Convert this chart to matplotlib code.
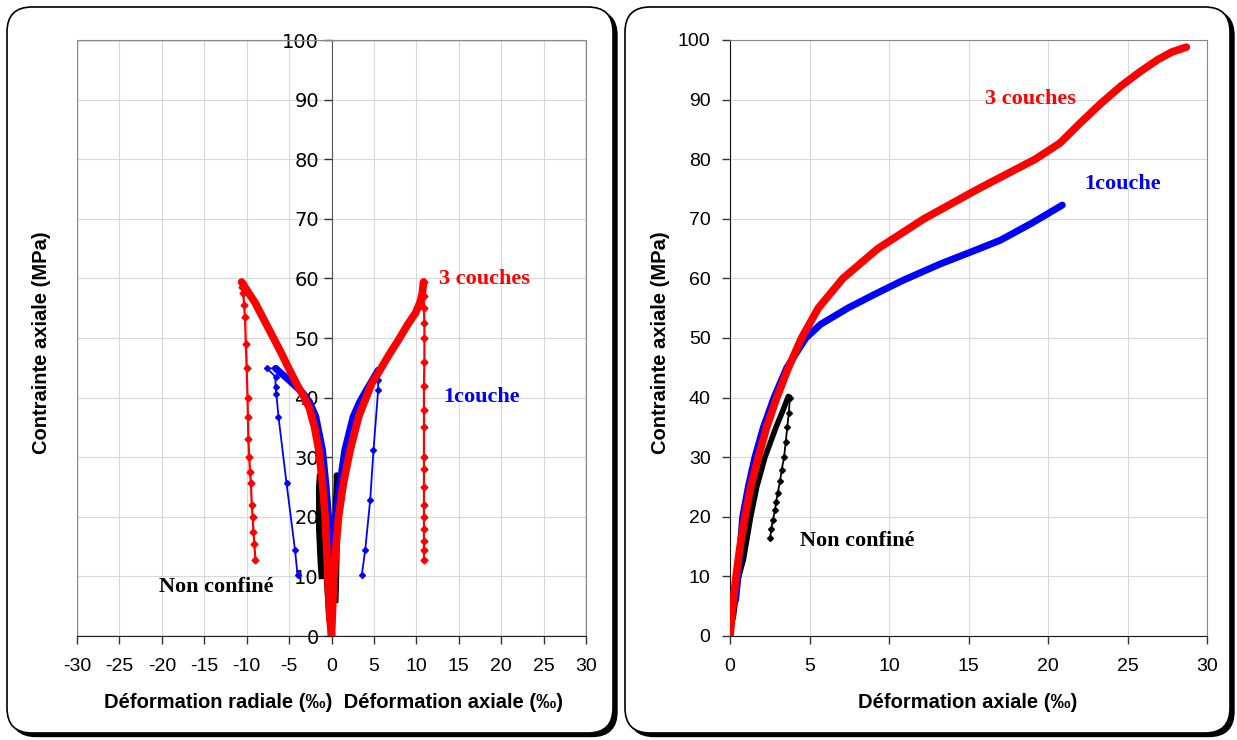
import matplotlib.pyplot as plt
from matplotlib.patches import FancyBboxPatch, Rectangle

plt.rcParams["axes.unicode_minus"] = False

# ---- left panel: radial (negative) and axial (positive) strain vs axial stress ----
# 3 couches (red)
r3_rad_x = [0.0, -0.2, -0.4, -0.55, -0.75, -1.06, -1.5, -2.0, -2.6, -3.3, -4.0, -5.0, -6.0, -7.5,
            -9.0, -10.6]
r3_rad_y = [0.0, 3.2, 8.8, 14.4, 20.0, 25.6, 31.2, 35.0, 38.2, 40.3, 42.0, 44.8, 47.7, 51.8,
            55.9, 59.4]
r3_rad_unl_x = [-10.6, -10.5, -10.4, -10.3, -10.2, -10.1, -10.0, -9.9, -9.85, -9.8, -9.7, -9.6,
                -9.5, -9.4, -9.3, -9.2, -9.1, -8.96]
r3_rad_unl_y = [59.4, 58.5, 57.5, 55.5, 53.5, 49.0, 45.0, 40.0, 36.7, 33.0, 30.0, 27.5, 25.6,
                22.0, 20.0, 17.5, 15.5, 12.7]
r3_ax_x = [0.0, 0.24, 0.5, 0.83, 1.4, 2.2, 3.2, 3.97, 4.75, 5.5, 6.7, 7.9, 9.0, 9.9, 10.45,
           10.7, 10.85]
r3_ax_y = [0.0, 8.8, 14.4, 20.0, 25.6, 31.2, 36.8, 39.6, 42.4, 44.1, 47.0, 49.7, 52.3, 54.2,
           56.0, 57.5, 59.4]
r3_ax_unl_x = [10.85, 10.9, 10.9, 10.95, 10.95, 10.95, 10.9, 10.9, 10.9, 10.9, 10.9, 10.9, 10.9,
               10.9, 10.9, 10.9, 10.9, 10.9]
r3_ax_unl_y = [59.4, 57.0, 55.0, 52.5, 50.0, 46.0, 42.0, 38.0, 35.0, 30.0, 28.0, 25.0, 22.0,
               20.0, 18.0, 16.0, 14.5, 12.7]

# 1couche (blue)
r1_rad_x = [0.0, -0.1, -0.15, -0.35, -0.67, -1.06, -1.85, -2.6, -3.4, -4.0, -5.3, -6.6]
r1_rad_y = [10.0, 12.0, 14.4, 20.0, 25.6, 31.2, 36.8, 39.3, 40.8, 41.6, 43.3, 44.9]
r1_rad_unl_x = [-6.6, -7.6, -6.6, -6.6, -6.5, -6.25, -5.3, -4.3, -4.0]
r1_rad_unl_y = [44.9, 44.9, 43.5, 41.8, 40.6, 36.8, 25.6, 14.4, 10.2]
r1_ax_x = [0.0, 0.16, 0.5, 1.0, 1.57, 2.55, 3.3, 3.97, 4.8, 5.5]
r1_ax_y = [10.0, 14.4, 20.0, 25.6, 31.2, 36.8, 39.2, 40.9, 42.9, 44.6]
r1_ax_unl_x = [5.5, 5.5, 5.5, 4.95, 4.56, 3.97, 3.57]
r1_ax_unl_y = [44.6, 43.0, 41.3, 31.2, 22.8, 14.4, 10.2]

# Non confiné (black)
r0_rad_x = [-0.3, -0.6, -0.9, -1.1, -1.3, -1.4, -1.5, -1.5, -1.3, -1.2]
r0_rad_y = [3.0, 10.0, 15.0, 20.0, 25.0, 27.0, 25.0, 18.0, 12.0, 10.0]
r0_ax_x = [0.1, 0.25, 0.35, 0.45, 0.6, 0.7, 0.65, 0.55, 0.5]
r0_ax_y = [3.0, 8.0, 14.0, 20.0, 27.0, 24.0, 15.0, 8.0, 6.0]

# ---- right panel: axial strain vs axial stress ----
c3_x = [0.0, 0.21, 0.38, 0.63, 0.94, 1.3, 1.78, 2.3, 2.94, 3.67, 4.5, 5.55, 7.1, 9.3, 12.2,
        15.6, 19.2, 20.75, 22.0, 23.3, 24.6, 25.8, 26.9, 27.8, 28.7]
c3_y = [0.0, 6.0, 10.0, 15.0, 20.0, 25.0, 30.0, 35.0, 40.0, 45.0, 50.0, 55.0, 60.0, 65.0, 70.0,
        75.0, 80.0, 82.7, 86.0, 89.3, 92.3, 94.7, 96.7, 98.0, 98.8]
c1_x = [0.0, 0.15, 0.35, 0.5, 0.8, 1.15, 1.57, 2.1, 2.77, 3.57, 4.77, 5.7, 7.4, 9.0, 10.9, 13.2,
        15.5, 17.0, 19.0, 20.9]
c1_y = [0.0, 5.5, 6.0, 10.0, 20.0, 25.0, 30.0, 35.0, 40.0, 45.0, 50.0, 52.3, 55.0, 57.2, 59.7,
        62.4, 64.8, 66.4, 69.3, 72.3]
c0_x = [0.2, 0.52, 0.84, 1.3, 1.68, 2.2, 2.89, 3.35, 3.67, 3.77]
c0_y = [3.0, 9.7, 12.8, 20.0, 25.0, 30.0, 35.0, 38.0, 40.2, 40.0]
c0_unl_x = [3.77, 3.7, 3.6, 3.5, 3.4, 3.25, 3.15, 3.0, 2.9, 2.83, 2.7, 2.6, 2.52]
c0_unl_y = [40.0, 37.5, 35.0, 32.5, 30.0, 27.9, 26.0, 24.0, 22.5, 21.1, 19.5, 18.0, 16.4]

x_ticks_left = list(range(-30, 31, 5))
x_ticks_right = list(range(0, 31, 5))
y_ticks = list(range(0, 101, 10))

W, H = 1237, 740
fig = plt.figure(figsize=(W / 100, H / 100), dpi=100)

SANS = ["Liberation Sans", "DejaVu Sans"]
SERIF = ["Liberation Serif", "DejaVu Serif"]


def add_frame(x0, y0, x1, y1):
    # rounded frame with a shadow, coordinates in pixels from top-left
    w = (x1 - x0) / 100
    h = (y1 - y0) / 100
    left = x0 / 100
    bottom = (H - y1) / 100
    style = "round,pad=0,rounding_size=0.25"
    shadow = FancyBboxPatch((left + 0.04, bottom - 0.035), w, h, boxstyle=style,
                            transform=fig.dpi_scale_trans, facecolor="black",
                            edgecolor="black", lw=1, zorder=-3)
    frame = FancyBboxPatch((left, bottom), w, h, boxstyle=style,
                           transform=fig.dpi_scale_trans, facecolor="white",
                           edgecolor="black", lw=1.2, zorder=-2)
    fig.patches.extend([shadow, frame])


add_frame(7, 7, 613, 733)
add_frame(625, 7, 1230, 733)


def style_axes(ax, xticks):
    ax.set_ylim(0, 100)
    ax.set_yticks(y_ticks)
    ax.set_xticks(xticks)
    ax.grid(True, color="#d8d8d8", lw=0.8)
    ax.set_axisbelow(True)
    ax.tick_params(labelsize=14, length=6, width=1, direction="out", color="#333333")
    for lab in ax.get_xticklabels() + ax.get_yticklabels():
        lab.set_family(SANS)
    ax.tick_params(axis="x", pad=10)


red, blue = "#ff0000", "#0000ff"
label_kw = dict(fontsize=16, fontweight="bold", family=SERIF, ha="center", va="center")

# ---- left axes ----
axL = fig.add_axes([77 / W, 1 - 636 / H, (586 - 77) / W, (636 - 40) / H])
axL.set_xlim(-30, 30)
style_axes(axL, x_ticks_left)
axL.spines["left"].set_position(("data", 0))
axL.spines["left"].set_color("#555555")
for s in ["top", "right"]:
    axL.spines[s].set_color("#888888")
axL.spines["bottom"].set_color("#222222")
axL.add_patch(Rectangle((0, 0), 1, 1, transform=axL.transAxes, fill=False,
                        edgecolor="#888888", lw=1, zorder=1))
axL.tick_params(axis="y", pad=3)

axL.plot(r0_rad_x, r0_rad_y, color="black", lw=4, zorder=3)
axL.plot(r0_ax_x, r0_ax_y, color="black", lw=4, zorder=3)
axL.plot(r1_rad_unl_x, r1_rad_unl_y, color=blue, lw=1.3, marker="D", ms=3, zorder=4)
axL.plot(r1_ax_unl_x, r1_ax_unl_y, color=blue, lw=1.3, marker="D", ms=3, zorder=4)
axL.plot(r1_rad_x, r1_rad_y, color=blue, lw=5, zorder=4, solid_capstyle="round")
axL.plot(r1_ax_x, r1_ax_y, color=blue, lw=5, zorder=4, solid_capstyle="round")
axL.plot(r3_rad_unl_x, r3_rad_unl_y, color=red, lw=1.6, marker="D", ms=3.5, zorder=5)
axL.plot(r3_ax_unl_x, r3_ax_unl_y, color=red, lw=1.6, marker="D", ms=3.5, zorder=5)
axL.plot(r3_rad_x, r3_rad_y, color=red, lw=5.5, zorder=5, solid_capstyle="round")
axL.plot(r3_ax_x, r3_ax_y, color=red, lw=5.5, zorder=5, solid_capstyle="round")

axL.text(18.0, 59.9, "3 couches", color=red, **label_kw)
axL.text(17.7, 40.1, "1couche", color=blue, **label_kw)
axL.text(-13.6, 8.2, "Non confiné", color="black", **label_kw)

# ---- right axes ----
axR = fig.add_axes([730 / W, 1 - 636 / H, (1207 - 730) / W, (636 - 40) / H])
axR.set_xlim(0, 30)
style_axes(axR, x_ticks_right)
axR.tick_params(axis="y", pad=8)
for s in ["top", "right"]:
    axR.spines[s].set_color("#888888")
for s in ["left", "bottom"]:
    axR.spines[s].set_color("#111111")

axR.plot(c0_x, c0_y, color="black", lw=4, zorder=3, solid_capstyle="round")
axR.plot(c0_unl_x, c0_unl_y, color="black", lw=1.3, marker="D", ms=3, zorder=3)
axR.plot(c1_x, c1_y, color=blue, lw=5, zorder=4, solid_capstyle="round")
axR.plot(c3_x, c3_y, color=red, lw=5.5, zorder=5, solid_capstyle="round")

axR.text(18.9, 90.1, "3 couches", color=red, **label_kw)
axR.text(24.7, 75.8, "1couche", color=blue, **label_kw)
axR.text(8.0, 15.9, "Non confiné", color="black", **label_kw)

# ---- axis titles ----
fig.text(333 / W, 1 - 702 / H, "Déformation radiale (‰)  Déformation axiale (‰)",
         fontsize=14.5, fontweight="bold", family=SANS, ha="center", va="center")
fig.text(968 / W, 1 - 703 / H, "Déformation axiale (‰)",
         fontsize=14.5, fontweight="bold", family=SANS, ha="center", va="center")
fig.text(42 / W, 1 - 343 / H, "Contrainte axiale (MPa)", rotation=90,
         fontsize=14.5, fontweight="bold", family=SANS, ha="center", va="center")
fig.text(660 / W, 1 - 343 / H, "Contrainte axiale (MPa)", rotation=90,
         fontsize=14.5, fontweight="bold", family=SANS, ha="center", va="center")

fig.savefig("out.png", dpi=100)
